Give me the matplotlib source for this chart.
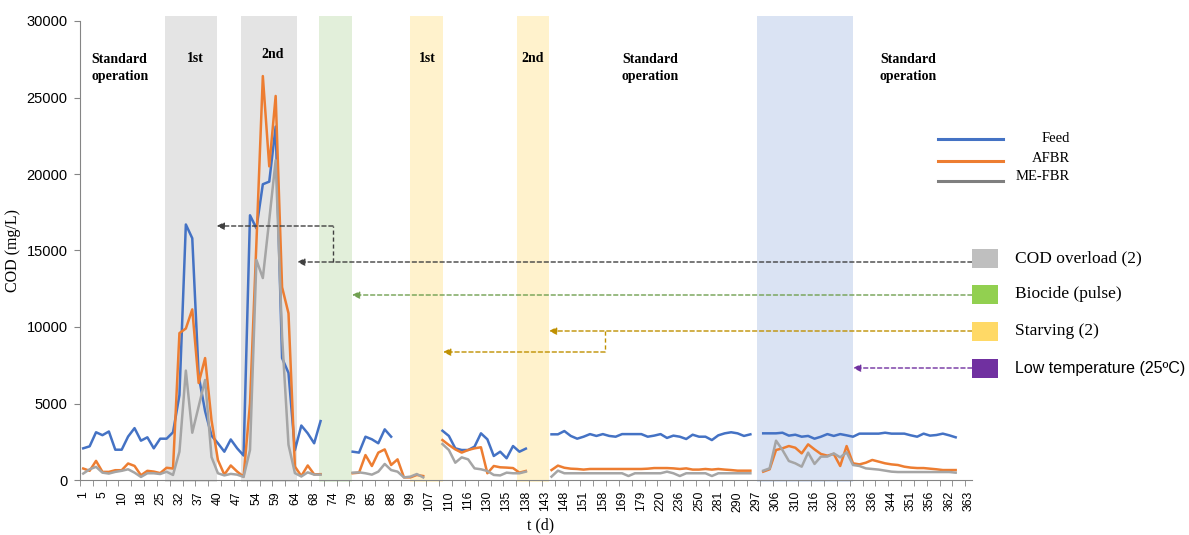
import numpy as np
import matplotlib.pyplot as plt
import matplotlib.transforms as mtransforms
from matplotlib.patches import Rectangle
from matplotlib.lines import Line2D

nan = np.nan

# COD (mg/L) per sampling point (gaps = no data)
feed = [2070, 2200, 3120, 2930, 3170, 1980, 1980, 2840, 3390, 2570,
        2790, 2070, 2700, 2700, 3120, 5550, 16700, 15800, 6800, 4500,
        2900, 2400, 1850, 2650, 2070, 1600, 17300, 16450, 19330, 19500,
        23100, 7970, 7000, 1950, 3560, 3050, 2400, 3850, nan, nan,
        nan, nan, 1850, 1790, 2830, 2660, 2400, 3310, 2830, nan,
        nan, nan, nan, nan, nan, nan, 3220, 2880, 2070, 1960,
        1960, 2180, 3050, 2660, 1570, 1850, 1420, 2220, 1850, 2050,
        nan, nan, nan, 2985, 2985, 3200, 2880, 2700, 2830, 3000,
        2880, 3000, 2880, 2830, 3000, 3000, 3000, 3000, 2830, 2900,
        3000, 2750, 2900, 2830, 2680, 2960, 2830, 2830, 2610, 2920,
        3050, 3120, 3050, 2880, 2985, nan, 3050, 3050, 3050, 3090,
        2900, 2960, 2830, 2880, 2700, 2830, 3000, 2880, 3000, 2920,
        2830, 3030, 3030, 3030, 3030, 3090, 3030, 3030, 3030, 2920,
        2830, 3030, 2900, 2940, 3030, 2920, 2790, nan, nan]

afbr = [750, 600, 1250, 530, 530, 640, 640, 1080, 920, 310,
        600, 550, 450, 800, 750, 9600, 9900, 11150, 6340, 7970,
        3900, 1300, 350, 950, 550, 220, 5000, 15500, 26400, 20500,
        25100, 12600, 10900, 880, 260, 950, 370, 380, nan, nan,
        nan, nan, 440, 480, 1630, 915, 1790, 2000, 980, 1350,
        170, 170, 330, 260, nan, nan, 2610, 2290, 2000, 1790,
        1960, 2070, 2140, 440, 915, 830, 810, 780, 480, 590,
        nan, nan, nan, 650, 940, 800, 740, 720, 680, 720,
        720, 720, 720, 720, 720, 720, 720, 720, 740, 780,
        780, 780, 760, 720, 760, 680, 680, 720, 680, 720,
        680, 650, 610, 610, 610, nan, 545, 700, 1960, 2070,
        2220, 2110, 1740, 2330, 2000, 1700, 1590, 1700, 915, 2220,
        1090, 1020, 1130, 1310, 1200, 1090, 1020, 980, 870, 810,
        780, 780, 740, 700, 650, 650, 650, nan, nan]

mefbr = [420, 700, 860, 480, 420, 530, 600, 700, 480, 200,
         440, 440, 390, 540, 330, 1850, 7150, 3090, 4800, 6540,
         1500, 440, 300, 400, 350, 200, 1960, 14380, 13200, 17000,
         20900, 9400, 2300, 450, 230, 500, 350, 350, nan, nan,
         nan, nan, 480, 500, 440, 350, 545, 1050, 650, 545,
         170, 220, 390, 170, nan, nan, 2350, 1960, 1130, 1480,
         1350, 760, 700, 590, 330, 300, 480, 440, 440, 545,
         nan, nan, nan, 220, 610, 440, 440, 440, 440, 440,
         440, 440, 440, 440, 440, 260, 440, 440, 440, 440,
         440, 545, 440, 260, 440, 440, 440, 440, 260, 440,
         440, 440, 440, 440, 440, nan, 610, 760, 2570, 1960,
         1240, 1090, 870, 1790, 1050, 1530, 1530, 1740, 1480, 1810,
         980, 915, 760, 720, 680, 610, 545, 520, 520, 520,
         520, 520, 520, 520, 520, 520, 480, nan, nan]

# every third category carries a day label
day_labels = ['1', '5', '10', '18', '25', '32', '37', '40', '47', '54',
              '59', '64', '68', '74', '79', '85', '88', '99', '107', '110',
              '116', '130', '135', '138', '143', '148', '151', '158', '169', '179',
              '220', '236', '250', '281', '290', '297', '306', '310', '316', '320',
              '333', '336', '344', '351', '356', '362', '363']

# event periods (category index range)
bands = [(12.7, 20.8, '#E4E4E4'), (24.6, 33.35, '#E4E4E4'),
         (36.8, 41.9, '#E2EFDA'), (51.0, 56.1, '#FFF2CC'),
         (67.6, 72.6, '#FFF2CC'), (105.1, 120.0, '#DAE3F3')]

serif = 'Liberation Serif'
sans = 'Liberation Sans'
W, H = 1189, 535

fig = plt.figure(figsize=(W / 100, H / 100), dpi=100)
ax = fig.add_axes([80 / W, 1 - 480 / H, 891.7 / W, 459 / H])
pix = mtransforms.Affine2D().scale(1 / W, -1 / H).translate(0, 1) + fig.transFigure
bl = mtransforms.blended_transform_factory(ax.transData, pix)

for x0, x1, c in bands:
    sp = ax.axvspan(x0, x1, ymin=-0.004, ymax=1.01, color=c, lw=0, zorder=0)
    sp.set_clip_on(False)

x = np.arange(len(feed))
ax.plot(x, feed, color='#4472C4', lw=1.8, zorder=3)
ax.plot(x, afbr, color='#ED7D31', lw=1.8, zorder=3)
ax.plot(x, mefbr, color='#A5A5A5', lw=1.8, zorder=3)

ax.set_xlim(-0.5, len(feed) - 0.5)
ax.set_ylim(0, 30000)
for s in ['top', 'right']:
    ax.spines[s].set_visible(False)
for s in ['left', 'bottom']:
    ax.spines[s].set_color('#858585')

ax.set_yticks(range(0, 30001, 5000))
ax.tick_params(axis='y', length=4, color='#858585', pad=5, labelsize=10.5)
ax.set_xticks(np.arange(0, len(feed), 3))
ax.set_xticklabels(day_labels, rotation=90)
ax.set_xticks(np.arange(-0.5, len(feed), 2), minor=True)
ax.tick_params(axis='x', which='major', length=0, pad=8, labelsize=8.8)
ax.tick_params(axis='x', which='minor', length=4, color='#858585')
for lab in ax.get_xticklabels() + ax.get_yticklabels():
    lab.set_family(sans)

ax.set_ylabel('COD (mg/L)', family=serif, fontsize=11.5)
ax.yaxis.set_label_coords(-0.066, 0.5)
ax.set_xlabel('t (d)', family=serif, fontsize=11.5)
ax.xaxis.set_label_coords(0.516, -0.082)

# period headers
hdr = dict(transform=pix, family=serif, fontweight='bold', fontsize=10, va='center')
fig.text(91, 68, 'Standard\noperation', ha='left', linespacing=1.45, **hdr)
fig.text(195, 58, '1st', ha='center', **hdr)
fig.text(273, 55, '2nd', ha='center', **hdr)
fig.text(427, 58, '1st', ha='center', **hdr)
fig.text(533, 58, '2nd', ha='center', **hdr)
fig.text(622, 68, 'Standard\noperation', ha='left', linespacing=1.45, **hdr)
fig.text(880, 68, 'Standard\noperation', ha='left', linespacing=1.45, **hdr)

# series legend
for yy, c, name, ty in [(139, '#4472C4', 'Feed', 139), (161, '#ED7D31', 'AFBR', 158),
                        (181, '#7F7F7F', 'ME-FBR', 176)]:
    fig.add_artist(Line2D([938, 1003], [yy, yy], transform=pix, color=c, lw=2.2))
    fig.text(1070, ty, name, transform=pix, ha='right', va='center', family=serif, fontsize=10.5)

# event legend boxes
events = [(258, '#BFBFBF', 'COD overload (2)', serif),
          (294, '#92D050', 'Biocide (pulse)', serif),
          (331, '#FFD966', 'Starving (2)', serif),
          (368, '#7030A0', 'Low temperature (25\u00baC)', sans)]
for yy, c, txt, fam in events:
    fig.add_artist(Rectangle((972, yy - 9.5), 26, 19, transform=pix, color=c, lw=0))
    fig.text(1015, yy, txt, transform=pix, ha='left', va='center', family=fam,
             fontsize=12.5 if fam == serif else 11.5)

def dash_arrow(x_tip, x_from, yy, c):
    ax.annotate('', xy=(x_tip, yy), xycoords=bl, xytext=(x_from, yy), textcoords=pix,
                annotation_clip=False,
                arrowprops=dict(arrowstyle='-|>', color=c, lw=1.0, linestyle=(0, (3, 2)),
                                shrinkA=0, shrinkB=0, mutation_scale=11))

def dash_line(xs, ys, c):
    fig.add_artist(Line2D(xs, ys, transform=pix, color=c, lw=1.0, linestyle=(0, (3, 2))))

dash_arrow(33.35, 972, 262, '#404040')
dash_line([333, 333], [262, 226], '#404040')
dash_arrow(20.8, 333, 226, '#404040')
dash_arrow(41.9, 972, 295, '#70A050')
dash_arrow(72.6, 972, 331, '#BF9000')
dash_line([605, 605], [331, 352], '#BF9000')
dash_arrow(56.1, 605, 352, '#BF9000')
dash_arrow(120.0, 972, 368, '#7030A0')

fig.savefig('out.png', dpi=100)
